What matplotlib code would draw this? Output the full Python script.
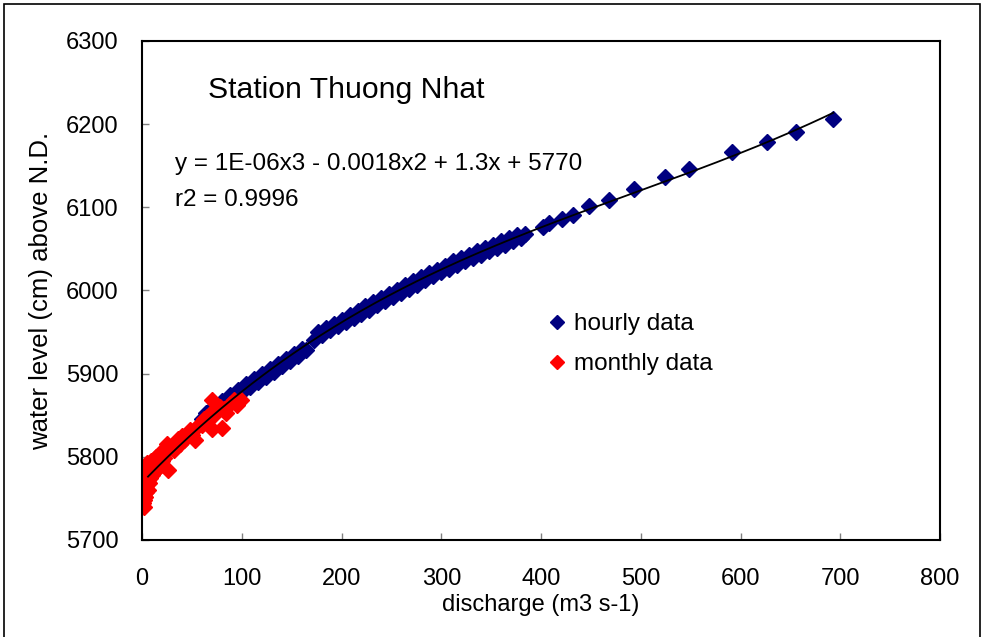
import numpy as np
import matplotlib
matplotlib.use("Agg")
from matplotlib import pyplot as plt
from matplotlib.patches import Rectangle

plt.rcParams['font.family'] = ['Liberation Sans', 'DejaVu Sans']

# hourly data (discharge m3/s, water level cm)
hourly_q = [60, 64, 68, 72, 76, 80, 84, 88, 92, 96, 100, 104, 108, 112, 116, 120,
            124, 128, 132, 136, 140, 144, 148, 152, 156, 160, 164,
            172, 176, 180, 184, 188, 192, 196, 200, 204, 208, 212, 216, 220, 224,
            228, 232, 236, 240, 244, 248, 252, 256, 260, 264, 268, 272, 276, 280,
            284, 288, 292, 296, 300, 304, 308, 312, 316, 320, 324, 328, 332, 336,
            340, 344, 348, 352, 356, 360, 364, 368, 372, 376, 380, 384,
            402, 408, 421, 432, 448, 468, 493, 524, 548, 591, 627, 656, 693]
hourly_h = [5846, 5853, 5853, 5861, 5858, 5867, 5864, 5874, 5871, 5880, 5878, 5887, 5884, 5893, 5890, 5899,
            5896, 5905, 5902, 5911, 5909, 5918, 5915, 5924, 5921, 5930, 5928,
            5941, 5950, 5947, 5955, 5952, 5960, 5957, 5965, 5962, 5971, 5967, 5975, 5972, 5981,
            5977, 5986, 5982, 5991, 5987, 5996, 5992, 6001, 5997, 6006, 6002, 6011, 6007, 6016,
            6012, 6021, 6017, 6025, 6022, 6030, 6026, 6035, 6031, 6039, 6035, 6043, 6039, 6047,
            6043, 6051, 6047, 6055, 6051, 6059, 6055, 6063, 6059, 6067, 6063, 6068,
            6076, 6081, 6086, 6091, 6102, 6109, 6122, 6136, 6146, 6167, 6179, 6191, 6206]

# monthly data
monthly_q = [0.5, 1, 1.5, 2, 2, 2.5, 3, 3, 3.5, 4, 4, 5, 5, 6, 6, 7, 8, 8, 9, 10,
             11, 12, 13, 15, 16, 18, 20, 22, 24, 25, 26, 28, 30, 32, 34, 36, 38, 40,
             42, 45, 48, 50, 53, 55, 58, 60, 62, 65, 68, 70, 70, 72, 75, 78, 80, 82,
             84, 88, 92, 95, 99,
             3, 5, 7, 9, 10, 12, 14, 16, 18, 20, 1, 2, 4, 6]
monthly_h = [5745, 5750, 5755, 5748, 5760, 5765, 5752, 5770, 5758, 5775, 5762, 5768, 5780, 5772, 5785, 5778, 5788, 5775, 5782, 5790,
             5785, 5795, 5788, 5797, 5792, 5800, 5803, 5798, 5808, 5816, 5784, 5810, 5812, 5808, 5818, 5822, 5815, 5825,
             5820, 5828, 5832, 5826, 5820, 5836, 5840, 5838, 5845, 5848, 5852, 5868, 5833, 5850, 5856, 5860, 5835, 5858,
             5853, 5864, 5868, 5862, 5868,
             5785, 5792, 5768, 5795, 5778, 5782, 5800, 5786, 5805, 5795, 5765, 5740, 5790, 5760]

title_text = "Station Thuong Nhat"
eq_text = "y = 1E-06x3 - 0.0018x2 + 1.3x + 5770"
r2_text = "r2 = 0.9996"

fig = plt.figure(figsize=(9.83, 6.37), dpi=100)
ax = fig.add_axes([0.1445, 0.1523, 0.8118, 0.7834])

# outer chart border
fig.patches.append(Rectangle((0.004, -0.05), 0.993, 1.0437, transform=fig.transFigure,
                             fill=False, edgecolor='black', linewidth=1.2))

ax.plot(hourly_q, hourly_h, linestyle='none', marker='D', markersize=8.3,
        color='#000080', label='hourly data')
ax.plot(monthly_q, monthly_h, linestyle='none', marker='D', markersize=8.3,
        color='#ff0000', label='monthly data')

# cubic trend line through all points
all_q = np.array(hourly_q + monthly_q)
all_h = np.array(hourly_h + monthly_h)
coef = np.polyfit(all_q, all_h, 3)
qq = np.linspace(6, 693, 200)
ax.plot(qq, np.polyval(coef, qq), color='black', linewidth=1.3)

ax.set_xlim(0, 800)
ax.set_ylim(5700, 6300)
ax.set_xticks(range(0, 801, 100))
ax.set_yticks(range(5700, 6301, 100))
ax.tick_params(axis='both', direction='in', length=5, width=1, color='#808080',
               labelsize=17)
ax.tick_params(axis='x', pad=20)
ax.tick_params(axis='y', pad=17)
for s in ax.spines.values():
    s.set_linewidth(1.5)

ax.set_xlabel("discharge (m3 s-1)", fontsize=17, labelpad=3)
ax.set_ylabel("water level (cm) above N.D.", fontsize=18.5, labelpad=9)

ax.text(0.083, 0.902, title_text, transform=ax.transAxes, fontsize=21.7, va='center')
ax.text(0.041, 0.7535, eq_text, transform=ax.transAxes, fontsize=17.5, va='center')
ax.text(0.041, 0.681, r2_text, transform=ax.transAxes, fontsize=17.5, va='center')

ax.legend(loc='center left', bbox_to_anchor=(0.474, 0.392), frameon=False,
          fontsize=17.5, handletextpad=0.1, labelspacing=0.75, handlelength=1.2,
          markerscale=0.8)

plt.savefig("out.png", dpi=100)
